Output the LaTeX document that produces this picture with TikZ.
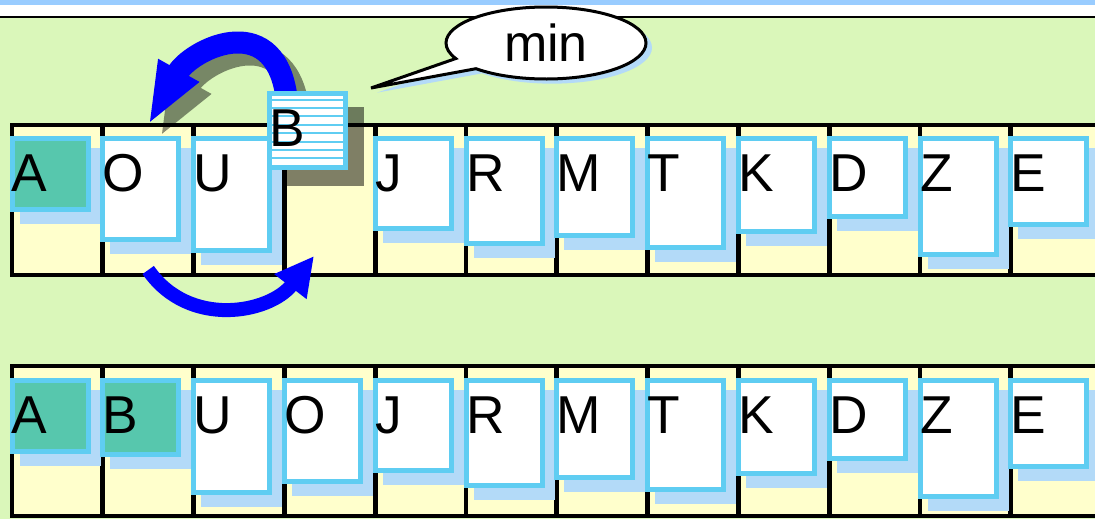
\documentclass[tikz,border=0pt]{standalone}
\usepackage{fontspec}
\setmainfont{Liberation Sans}
\usetikzlibrary{arrows.meta,calc,shapes.callouts,shadows}

\definecolor{topBlue}{RGB}{153,204,255}
\definecolor{bgGreen}{RGB}{218,247,186}
\definecolor{cellYellow}{RGB}{255,255,204}
\definecolor{cardBlue}{RGB}{95,205,242}
\definecolor{cardShadow}{RGB}{179,218,248}
\definecolor{cardTeal}{RGB}{87,199,173}
\definecolor{arrowBlue}{RGB}{0,0,255}

\begin{document}
\begin{tikzpicture}[x=0.75pt, y=-0.75pt,
	cell/.style={draw=black, fill=cellYellow, line width=3.6pt, minimum width=68.1pt, minimum height=112.5pt, inner sep=0pt, outer sep=0pt},
	card/.style={draw=cardBlue, line width=3.75pt, anchor=north west, inner sep=0pt, outer sep=0pt, text width=57pt, align=left, text height=39.4pt, font=\fontsize{40}{40}\selectfont},
	cardShade/.style={fill=cardShadow}]
				
				% frame and background
				\useasboundingbox (0,0) rectangle (1095,519);
				\clip (0,0) rectangle (1095,519);
				\fill[white] (0,0) rectangle (1095,519);
				\fill[topBlue] (0,0) rectangle (1095,5);
				\fill[bgGreen] (0,17) rectangle (1095,519);
				\draw[line width=1.1pt] (0,17) -- (1095,17);
				
				% draw the two rows of cells
				\foreach \i in {0,...,11} {
					\node[cell] (topCell\i) at (57.4+90.8*\i,200) {};
					\node[cell] (lowCell\i) at (57.4+90.8*\i,441) {};
				}
				
				% draw cards of the upper row (B is lifted out)
				\foreach \i/\ltr/\h/\col in {0/A/76/cardTeal, 1/O/106/white, 2/U/117/white, 4/J/95/white, 5/R/110/white, 6/M/102/white, 7/T/114/white, 8/K/98/white, 9/D/83/white, 10/Z/121/white, 11/E/91/white} {
					\pgfmathsetmacro\dep{(\h-57.5)*0.75}
					\fill[cardShade] (12+90.8*\i+7.5,148) rectangle ++(81,\h);
					\node[card, fill=\col, text depth=\dep pt] (top\ltr) at (12+90.8*\i,138.5) {\ltr};
				}
				
				% where the lifted card leaves from
				\coordinate (liftStart) at (286,93.5);
				
				% shadow of the upper arrow
				\begin{scope}[transparency group, opacity=0.45]
					\draw[black, line width=16.5pt, -{Triangle[length=47pt, width=31.5pt]}] ($(liftStart)+(12,12)$) .. controls +(-14,-85) and +(42,-75) .. ($(topCell1.north)+(12,12)$);
				\end{scope}
				
				% draw the upper arrow, then the lifted card on top of it
				\draw[arrowBlue, line width=16.5pt, -{Triangle[length=47pt, width=31.5pt]}] (liftStart) .. controls +(-14,-85) and +(42,-75) .. (topCell1.north);
				\fill[black, opacity=0.5] (283,107) rectangle ++(81,79);
				\node[card, fill=white, text depth=16.1pt, path picture={
					\foreach \k in {0,...,7}
					\draw[cardBlue, line width=1.5pt] ($(path picture bounding box.north west)+(0,6+8.4*\k)$) -- ++(80,0);
				}] (topB) at (269.5,93.5) {B};
				
				% speech bubble
				\node[ellipse callout, draw=black, fill=white, line width=2.25pt, minimum width=150pt, minimum height=54pt, inner sep=0pt,
					callout absolute pointer={(371,88)}, callout pointer arc=20,
					general shadow={fill=cardShadow, shadow xshift=4.5pt, shadow yshift=-3.5pt},
					font=\fontsize{39}{39}\selectfont] (minNote) at (546,43) {min};
				
				% draw the lower arrow
				\coordinate (swapEnd) at (314,256);
				\draw[arrowBlue, line width=10.5pt, -{Triangle[length=29pt, width=28.5pt]}] ($(topCell1.south)+(0,-5)$) .. controls +(41,59) and +(-44,57) .. (swapEnd);
				
				% draw cards of the lower row
				\foreach \i/\ltr/\h/\col in {0/A/76/cardTeal, 1/B/79/cardTeal, 2/U/117/white, 3/O/106/white, 4/J/95/white, 5/R/110/white, 6/M/102/white, 7/T/114/white, 8/K/98/white, 9/D/83/white, 10/Z/121/white, 11/E/91/white} {
					\pgfmathsetmacro\dep{(\h-57.5)*0.75}
					\fill[cardShade] (12+90.8*\i+7.5,390) rectangle ++(81,\h);
					\node[card, fill=\col, text depth=\dep pt] (low\ltr) at (12+90.8*\i,380.5) {\ltr};
				}
			\end{tikzpicture}
\end{document}
